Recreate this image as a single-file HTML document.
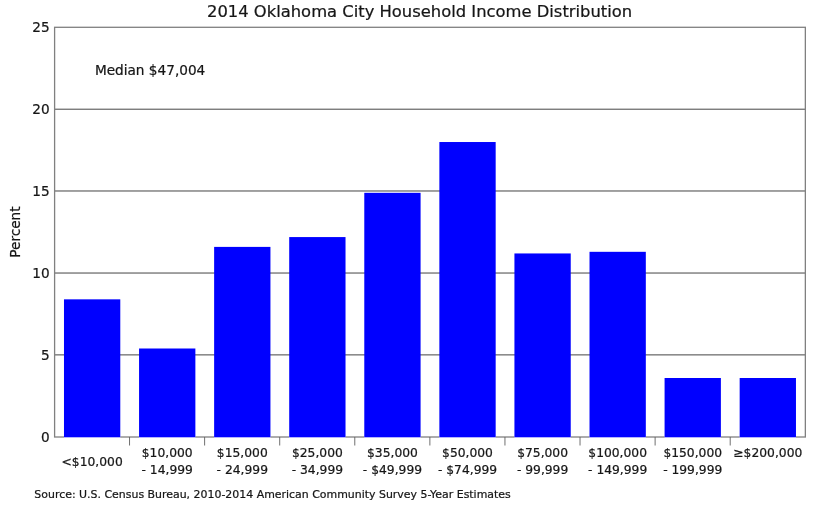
<!DOCTYPE html>
<html lang="en">
<head>
<meta charset="utf-8">
<title>2014 Oklahoma City Household Income Distribution</title>
<style>
html,body{margin:0;padding:0;background:#fff;}
body{width:819px;height:512px;overflow:hidden;}
svg{display:block;}
svg text{font-family:"DejaVu Sans","Liberation Sans",sans-serif;fill:#161616;stroke:#161616;stroke-width:0.22px;}
.yt{font-size:13.65px;text-anchor:end;}
.xt{font-size:12.3px;text-anchor:middle;}
</style>
</head>
<body>
<svg width="819" height="512" viewBox="0 0 819 512">
<rect x="0" y="0" width="819" height="512" fill="#ffffff"/>
<g fill="#707070">
<rect x="54.60" y="354.20" width="750.75" height="1.30"/>
<rect x="54.60" y="272.38" width="750.75" height="1.30"/>
<rect x="54.60" y="190.33" width="750.75" height="1.30"/>
<rect x="54.60" y="108.60" width="750.75" height="1.30"/>
</g>
<rect x="54.60" y="27.30" width="750.75" height="409.70" fill="none" stroke="#808080" stroke-width="1.3"/>
<g fill="#ffffff">
<rect x="63.98" y="436.00" width="56.31" height="2"/>
<rect x="139.06" y="436.00" width="56.31" height="2"/>
<rect x="214.13" y="436.00" width="56.31" height="2"/>
<rect x="289.21" y="436.00" width="56.31" height="2"/>
<rect x="364.28" y="436.00" width="56.31" height="2"/>
<rect x="439.36" y="436.00" width="56.31" height="2"/>
<rect x="514.43" y="436.00" width="56.31" height="2"/>
<rect x="589.51" y="436.00" width="56.31" height="2"/>
<rect x="664.58" y="436.00" width="56.31" height="2"/>
<rect x="739.66" y="436.00" width="56.31" height="2"/>
</g>
<g fill="#0000ff">
<rect x="63.98" y="299.34" width="56.31" height="137.96"/>
<rect x="139.06" y="348.50" width="56.31" height="88.80"/>
<rect x="214.13" y="246.90" width="56.31" height="190.40"/>
<rect x="289.21" y="237.07" width="56.31" height="200.23"/>
<rect x="364.28" y="192.82" width="56.31" height="244.48"/>
<rect x="439.36" y="142.02" width="56.31" height="295.28"/>
<rect x="514.43" y="253.45" width="56.31" height="183.85"/>
<rect x="589.51" y="251.82" width="56.31" height="185.48"/>
<rect x="664.58" y="378.00" width="56.31" height="59.30"/>
<rect x="739.66" y="378.00" width="56.31" height="59.30"/>
</g>
<g fill="#606060">
<rect x="129.13" y="437.00" width="0.9" height="8.5"/>
<rect x="204.20" y="437.00" width="0.9" height="8.5"/>
<rect x="279.28" y="437.00" width="0.9" height="8.5"/>
<rect x="354.35" y="437.00" width="0.9" height="8.5"/>
<rect x="429.43" y="437.00" width="0.9" height="8.5"/>
<rect x="504.50" y="437.00" width="0.9" height="8.5"/>
<rect x="579.57" y="437.00" width="0.9" height="8.5"/>
<rect x="654.65" y="437.00" width="0.9" height="8.5"/>
<rect x="729.73" y="437.00" width="0.9" height="8.5"/>
</g>
<text class="yt" x="49.7" y="441.70">0</text>
<text class="yt" x="49.7" y="359.76">5</text>
<text class="yt" x="49.7" y="277.82">10</text>
<text class="yt" x="49.7" y="195.88">15</text>
<text class="yt" x="49.7" y="113.94">20</text>
<text class="yt" x="49.7" y="32.00">25</text>
<text class="xt" x="92.14" y="465.8">&lt;$10,000</text>
<text class="xt" x="167.21" y="457.0">$10,000</text>
<text class="xt" x="167.21" y="474.4">- 14,999</text>
<text class="xt" x="242.29" y="457.0">$15,000</text>
<text class="xt" x="242.29" y="474.4">- 24,999</text>
<text class="xt" x="317.36" y="457.0">$25,000</text>
<text class="xt" x="317.36" y="474.4">- 34,999</text>
<text class="xt" x="392.44" y="457.0">$35,000</text>
<text class="xt" x="392.44" y="474.4">- $49,999</text>
<text class="xt" x="467.51" y="457.0">$50,000</text>
<text class="xt" x="467.51" y="474.4">- $74,999</text>
<text class="xt" x="542.59" y="457.0">$75,000</text>
<text class="xt" x="542.59" y="474.4">- 99,999</text>
<text class="xt" x="617.66" y="457.0">$100,000</text>
<text class="xt" x="617.66" y="474.4">- 149,999</text>
<text class="xt" x="692.74" y="457.0">$150,000</text>
<text class="xt" x="692.74" y="474.4">- 199,999</text>
<text class="xt" x="767.81" y="457.0">≥$200,000</text>
<text x="419.6" y="16.9" font-size="16.38" text-anchor="middle">2014 Oklahoma City Household Income Distribution</text>
<text transform="translate(19.8,232.1) rotate(-90)" font-size="13.65" text-anchor="middle">Percent</text>
<text x="94.9" y="74.8" font-size="13.65">Median $47,004</text>
<text x="34.35" y="498.4" font-size="10.94">Source: U.S. Census Bureau, 2010-2014 American Community Survey 5-Year Estimates</text>
</svg>
</body>
</html>
